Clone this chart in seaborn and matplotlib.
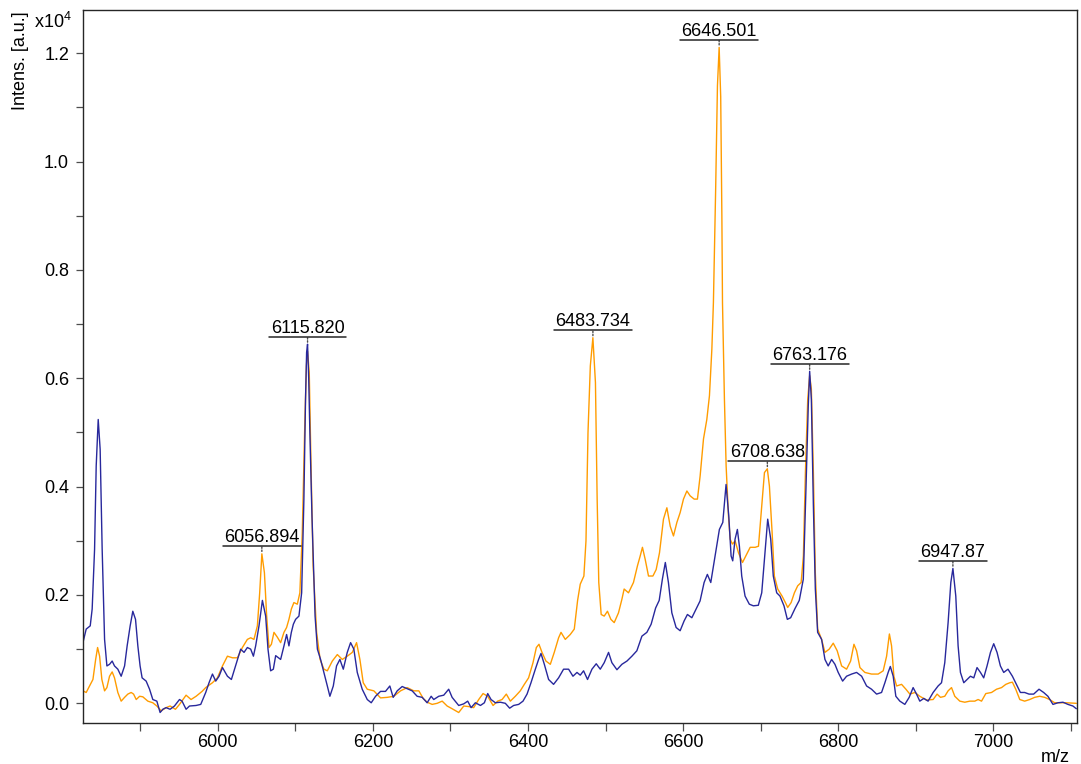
import numpy as np
import pandas as pd
import matplotlib
matplotlib.use("Agg")
import matplotlib.pyplot as plt
import matplotlib.transforms as mtransforms
from matplotlib.lines import Line2D
from matplotlib.ticker import MultipleLocator, FormatStrFormatter
import seaborn as sns

# ---------------- data (intensity in units of 10^4 a.u.) ----------------
blue_mz = [
    5826.2, 5830.4, 5835.6, 5838.1, 5841.2, 5843.3, 5845.9, 5848.4, 5851.0, 5854.1,
    5857.1, 5860.5, 5863.9, 5866.9, 5871.2, 5875.5, 5879.9, 5883.2, 5887.1, 5890.5,
    5894.0, 5897.0, 5899.9, 5902.5, 5907.7, 5912.1, 5916.3, 5921.5, 5925.7, 5929.2,
    5933.4, 5938.6, 5944.2, 5950.7, 5954.0, 5959.2, 5963.6, 5972.1, 5978.1, 5984.5,
    5988.8, 5993.2, 5997.4, 6001.7, 6006.1, 6012.5, 6017.6, 6021.0, 6026.1, 6029.6,
    6033.9, 6038.2, 6042.5, 6046.0, 6048.9, 6053.2, 6057.6, 6061.8, 6064.8, 6068.2,
    6071.7, 6074.7, 6081.1, 6085.4, 6088.8, 6091.8, 6094.9, 6097.5, 6100.4, 6104.7,
    6108.2, 6111.1, 6113.2, 6114.6, 6115.8, 6117.3, 6118.8, 6121.5, 6125.5, 6128.5,
    6132.6, 6136.9, 6141.3, 6144.6, 6149.0, 6153.2, 6157.5, 6161.9, 6167.0, 6171.3,
    6175.5, 6179.9, 6186.3, 6192.8, 6197.9, 6203.5, 6209.9, 6216.3, 6221.9, 6226.2,
    6231.4, 6237.8, 6244.3, 6250.7, 6257.1, 6263.6, 6270.0, 6275.2, 6278.5, 6285.0,
    6291.4, 6297.8, 6302.2, 6310.7, 6317.2, 6322.3, 6326.7, 6332.2, 6338.7, 6343.8,
    6348.1, 6352.4, 6358.0, 6364.4, 6370.8, 6376.4, 6381.5, 6388.0, 6393.6, 6398.8,
    6403.9, 6409.5, 6413.7, 6416.8, 6421.1, 6426.6, 6433.0, 6439.5, 6445.9, 6452.4,
    6458.0, 6463.2, 6467.4, 6471.7, 6476.8, 6482.5, 6488.0, 6493.2, 6498.3, 6503.9,
    6508.2, 6514.7, 6521.1, 6527.6, 6534.0, 6540.4, 6546.9, 6553.3, 6558.8, 6564.6,
    6569.2, 6573.4, 6577.1, 6581.1, 6585.5, 6591.0, 6596.2, 6601.3, 6605.6, 6611.3,
    6617.7, 6621.9, 6627.1, 6631.3, 6635.7, 6641.3, 6646.8, 6651.2, 6655.4, 6658.9,
    6661.9, 6664.0, 6667.0, 6670.0, 6672.6, 6675.6, 6679.9, 6685.4, 6690.6, 6697.0,
    6701.4, 6705.6, 6709.1, 6713.0, 6716.3, 6720.7, 6724.9, 6730.1, 6734.4, 6738.7,
    6744.3, 6749.8, 6755.0, 6758.4, 6761.4, 6763.2, 6765.4, 6768.0, 6770.5, 6773.5,
    6778.6, 6782.9, 6787.1, 6791.5, 6795.8, 6800.0, 6805.7, 6810.8, 6817.3, 6823.7,
    6830.2, 6836.6, 6843.0, 6849.5, 6855.9, 6860.2, 6864.4, 6867.2, 6870.9, 6874.3,
    6879.5, 6885.9, 6891.5, 6896.6, 6901.0, 6905.2, 6910.4, 6915.9, 6922.4, 6928.8,
    6933.2, 6937.4, 6941.7, 6945.2, 6947.9, 6951.6, 6954.6, 6957.6, 6961.9, 6966.2,
    6970.5, 6974.8, 6979.0, 6983.4, 6987.6, 6991.9, 6996.3, 7000.5, 7004.8, 7009.1,
    7013.4, 7018.9, 7024.6, 7029.7, 7034.9, 7040.4, 7046.0, 7052.0, 7058.9, 7064.9,
    7070.4, 7076.9, 7083.3, 7089.8, 7096.2, 7102.6, 7107.0,
]
blue_int = [
    0.112, 0.137, 0.143, 0.174, 0.284, 0.438, 0.524, 0.469, 0.284, 0.118,
    0.069, 0.072, 0.078, 0.069, 0.063, 0.050, 0.069, 0.106, 0.143, 0.170,
    0.155, 0.106, 0.069, 0.047, 0.041, 0.026, 0.007, 0.004, -0.017, -0.011,
    -0.008, -0.011, -0.005, 0.007, 0.004, -0.011, -0.005, -0.004, -0.002, 0.020,
    0.038, 0.054, 0.041, 0.050, 0.066, 0.050, 0.044, 0.060, 0.084, 0.100,
    0.094, 0.103, 0.100, 0.087, 0.106, 0.143, 0.190, 0.161, 0.100, 0.060,
    0.063, 0.088, 0.081, 0.106, 0.127, 0.106, 0.131, 0.146, 0.155, 0.161,
    0.204, 0.377, 0.561, 0.648, 0.663, 0.600, 0.500, 0.346, 0.161, 0.100,
    0.081, 0.057, 0.032, 0.013, 0.032, 0.069, 0.081, 0.063, 0.094, 0.112,
    0.100, 0.057, 0.026, 0.007, 0.001, 0.013, 0.022, 0.022, 0.032, 0.011,
    0.023, 0.031, 0.027, 0.023, 0.013, 0.011, 0.001, 0.013, 0.007, 0.013,
    0.015, 0.026, 0.011, -0.004, -0.001, 0.004, -0.008, 0.001, -0.004, 0.001,
    0.018, 0.007, 0.001, 0.002, 0.000, -0.009, -0.004, -0.002, 0.004, 0.017,
    0.038, 0.063, 0.081, 0.092, 0.072, 0.044, 0.035, 0.047, 0.063, 0.063,
    0.050, 0.057, 0.052, 0.060, 0.044, 0.063, 0.073, 0.063, 0.075, 0.094,
    0.075, 0.062, 0.072, 0.078, 0.087, 0.097, 0.124, 0.131, 0.146, 0.176,
    0.190, 0.230, 0.260, 0.223, 0.167, 0.140, 0.134, 0.152, 0.164, 0.158,
    0.177, 0.189, 0.223, 0.238, 0.223, 0.272, 0.321, 0.334, 0.404, 0.346,
    0.272, 0.263, 0.303, 0.321, 0.290, 0.235, 0.198, 0.183, 0.180, 0.181,
    0.204, 0.278, 0.340, 0.303, 0.235, 0.204, 0.198, 0.180, 0.155, 0.158,
    0.175, 0.190, 0.229, 0.395, 0.549, 0.613, 0.561, 0.364, 0.211, 0.131,
    0.118, 0.081, 0.069, 0.081, 0.072, 0.057, 0.041, 0.050, 0.054, 0.057,
    0.050, 0.032, 0.026, 0.017, 0.020, 0.038, 0.057, 0.068, 0.050, 0.013,
    0.004, -0.002, 0.011, 0.029, 0.017, 0.004, 0.009, 0.004, 0.020, 0.032,
    0.038, 0.075, 0.149, 0.223, 0.249, 0.198, 0.106, 0.057, 0.038, 0.044,
    0.050, 0.047, 0.066, 0.057, 0.047, 0.069, 0.094, 0.110, 0.094, 0.069,
    0.057, 0.063, 0.050, 0.035, 0.020, 0.020, 0.017, 0.017, 0.026, 0.020,
    0.013, -0.002, 0.001, 0.002, -0.002, -0.005, -0.010,
]

orange_mz = [
    5826.2, 5830.4, 5834.8, 5839.1, 5842.6, 5845.1, 5847.7, 5850.6, 5854.1, 5857.1,
    5860.5, 5863.9, 5866.9, 5871.2, 5875.5, 5879.9, 5884.1, 5888.4, 5891.5, 5894.9,
    5899.3, 5903.4, 5909.9, 5916.3, 5921.5, 5927.1, 5933.4, 5938.6, 5945.5, 5950.7,
    5959.2, 5965.6, 5972.1, 5979.8, 5984.5, 5993.2, 5999.6, 6006.1, 6012.5, 6019.0,
    6025.4, 6031.8, 6038.2, 6042.5, 6046.7, 6051.1, 6054.1, 6056.9, 6060.2, 6063.1,
    6066.1, 6069.2, 6072.5, 6076.9, 6081.1, 6085.4, 6088.8, 6091.8, 6094.9, 6098.2,
    6102.6, 6105.9, 6109.0, 6112.0, 6114.3, 6115.8, 6118.0, 6120.3, 6123.0, 6127.5,
    6132.0, 6136.9, 6141.3, 6147.7, 6154.2, 6160.6, 6167.0, 6173.5, 6179.0, 6183.3,
    6187.6, 6192.8, 6201.3, 6209.9, 6218.6, 6227.1, 6235.7, 6244.3, 6252.8, 6259.3,
    6264.9, 6270.0, 6276.5, 6282.9, 6289.4, 6295.8, 6302.2, 6310.7, 6317.2, 6323.6,
    6330.0, 6336.5, 6342.1, 6348.1, 6355.0, 6360.9, 6366.6, 6372.1, 6377.3, 6383.7,
    6390.1, 6395.3, 6400.8, 6406.5, 6410.8, 6414.2, 6418.1, 6423.2, 6428.8, 6433.9,
    6439.5, 6442.6, 6448.1, 6454.5, 6459.7, 6464.0, 6467.4, 6472.1, 6474.8, 6477.4,
    6480.4, 6483.7, 6487.0, 6489.2, 6491.3, 6494.4, 6498.3, 6502.5, 6506.9, 6511.2,
    6516.7, 6521.1, 6524.0, 6529.6, 6536.0, 6541.2, 6544.7, 6547.6, 6551.1, 6555.4,
    6561.1, 6565.3, 6569.6, 6574.7, 6579.1, 6583.4, 6587.6, 6592.0, 6596.2, 6600.5,
    6604.9, 6609.1, 6614.3, 6618.5, 6622.0, 6626.3, 6630.6, 6634.0, 6637.1, 6639.1,
    6642.0, 6644.3, 6646.5, 6648.5, 6650.0, 6650.8, 6653.3, 6655.5, 6658.5, 6660.7,
    6663.6, 6667.1, 6671.4, 6676.6, 6680.8, 6686.5, 6692.9, 6697.2, 6701.4, 6704.9,
    6708.6, 6711.3, 6714.8, 6717.7, 6722.0, 6727.6, 6731.9, 6734.9, 6739.3, 6743.5,
    6747.8, 6752.2, 6755.1, 6757.7, 6760.7, 6763.2, 6765.4, 6768.0, 6770.5, 6773.5,
    6778.6, 6782.9, 6788.4, 6793.6, 6798.7, 6804.4, 6810.8, 6816.0, 6820.3, 6823.7,
    6828.0, 6834.4, 6843.0, 6851.5, 6858.0, 6862.4, 6866.0, 6868.8, 6871.8, 6875.3,
    6881.7, 6887.3, 6892.4, 6898.9, 6905.2, 6913.9, 6922.4, 6927.5, 6931.9, 6937.4,
    6941.7, 6946.1, 6950.3, 6956.8, 6963.2, 6969.7, 6976.1, 6980.4, 6984.8, 6990.3,
    6997.7, 7004.1, 7010.6, 7016.1, 7021.3, 7024.6, 7028.9, 7034.1, 7040.4, 7046.9,
    7053.3, 7059.8, 7066.2, 7072.6, 7079.1, 7085.5, 7094.1, 7107.0,
]
orange_int = [
    0.023, 0.020, 0.032, 0.044, 0.081, 0.103, 0.087, 0.044, 0.023, 0.029,
    0.050, 0.058, 0.047, 0.020, 0.004, 0.011, 0.017, 0.020, 0.017, 0.007,
    0.013, 0.012, 0.004, 0.001, -0.005, -0.014, -0.008, -0.005, -0.011, -0.002,
    0.015, 0.007, 0.013, 0.022, 0.029, 0.038, 0.047, 0.069, 0.087, 0.084,
    0.084, 0.103, 0.118, 0.121, 0.118, 0.143, 0.204, 0.276, 0.241, 0.161,
    0.103, 0.109, 0.131, 0.122, 0.112, 0.131, 0.140, 0.155, 0.174, 0.186,
    0.183, 0.204, 0.315, 0.500, 0.623, 0.650, 0.611, 0.438, 0.254, 0.131,
    0.081, 0.063, 0.060, 0.078, 0.090, 0.081, 0.087, 0.094, 0.112, 0.081,
    0.038, 0.026, 0.023, 0.010, 0.011, 0.013, 0.023, 0.029, 0.023, 0.023,
    0.009, 0.002, -0.002, 0.000, 0.004, -0.005, -0.010, -0.017, -0.005, -0.006,
    -0.008, 0.007, 0.018, 0.013, -0.004, 0.004, 0.007, 0.017, 0.004, 0.013,
    0.023, 0.035, 0.047, 0.075, 0.103, 0.109, 0.094, 0.078, 0.072, 0.094,
    0.121, 0.131, 0.118, 0.127, 0.137, 0.190, 0.220, 0.235, 0.300, 0.500,
    0.623, 0.675, 0.592, 0.377, 0.223, 0.164, 0.161, 0.170, 0.155, 0.149,
    0.167, 0.192, 0.211, 0.204, 0.223, 0.254, 0.272, 0.288, 0.266, 0.235,
    0.235, 0.247, 0.278, 0.340, 0.361, 0.327, 0.309, 0.334, 0.352, 0.377,
    0.392, 0.383, 0.377, 0.377, 0.420, 0.488, 0.524, 0.568, 0.654, 0.740,
    0.950, 1.140, 1.211, 1.120, 0.900, 0.740, 0.561, 0.438, 0.346, 0.303,
    0.294, 0.300, 0.278, 0.260, 0.272, 0.288, 0.288, 0.290, 0.364, 0.426,
    0.433, 0.401, 0.315, 0.235, 0.211, 0.198, 0.186, 0.177, 0.186, 0.204,
    0.217, 0.223, 0.272, 0.426, 0.561, 0.605, 0.580, 0.426, 0.241, 0.137,
    0.118, 0.094, 0.100, 0.111, 0.097, 0.069, 0.063, 0.078, 0.109, 0.097,
    0.066, 0.057, 0.054, 0.054, 0.060, 0.087, 0.128, 0.106, 0.050, 0.032,
    0.035, 0.026, 0.017, 0.020, 0.013, 0.006, 0.007, 0.017, 0.011, 0.013,
    0.023, 0.029, 0.013, 0.004, 0.002, 0.004, 0.004, 0.007, 0.004, 0.018,
    0.020, 0.026, 0.029, 0.035, 0.038, 0.039, 0.026, 0.007, 0.004, 0.007,
    0.011, 0.013, 0.011, 0.007, 0.001, 0.001, 0.001, 0.000,
]

peak_mz = [6056.894, 6115.820, 6483.734, 6646.501, 6708.638, 6763.176, 6947.87]
peak_labels = ["6056.894", "6115.820", "6483.734", "6646.501", "6708.638", "6763.176", "6947.87"]

x_ticks = [6000, 6200, 6400, 6600, 6800, 7000]
y_ticks = [0.0, 0.2, 0.4, 0.6, 0.8, 1.0, 1.2]

assert len(blue_mz) == len(blue_int)
assert len(orange_mz) == len(orange_int)

ORANGE = "#ff9c00"
BLUE = "#28289c"

# ---------------- figure ----------------
sns.set_style("ticks")
plt.rcParams["font.family"] = ["Liberation Sans", "DejaVu Sans"]
plt.rcParams["mathtext.default"] = "regular"
plt.rcParams["text.color"] = "black"
plt.rcParams["xtick.labelcolor"] = "black"
plt.rcParams["ytick.labelcolor"] = "black"

FS = 13
W, H = 1081, 764
fig = plt.figure(figsize=(W / 100, H / 100), dpi=100)
ax_l, ax_r, ax_t, ax_b = 82.7, 1076.7, 10.0, 722.7
ax = fig.add_axes([ax_l / W, 1 - ax_b / H, (ax_r - ax_l) / W, (ax_b - ax_t) / H])

df_orange = pd.DataFrame({"mz": orange_mz, "intensity": orange_int})
df_blue = pd.DataFrame({"mz": blue_mz, "intensity": blue_int})
sns.lineplot(data=df_orange, x="mz", y="intensity", color=ORANGE, lw=1.0,
             estimator=None, sort=False, ax=ax)
sns.lineplot(data=df_blue, x="mz", y="intensity", color=BLUE, lw=1.0,
             estimator=None, sort=False, ax=ax)

ax.set_xlim(5825.9, 7107.5)
ax.set_ylim(-0.0358, 1.28)
ax.set_xlabel("")
ax.set_ylabel("")
ax.set_xticks(x_ticks)
ax.set_yticks(y_ticks)
ax.xaxis.set_minor_locator(MultipleLocator(100))
ax.yaxis.set_minor_locator(MultipleLocator(0.1))
ax.yaxis.set_major_formatter(FormatStrFormatter("%.1f"))
ax.tick_params(axis="x", which="both", direction="out", length=5.5, width=0.9,
               color="0.3", labelsize=FS, labelcolor="black", pad=2.5)
ax.tick_params(axis="y", which="both", direction="out", length=4.8, width=0.9,
               color="0.3", labelsize=FS, labelcolor="black", pad=5.0)
for s in ax.spines.values():
    s.set_visible(True)
    s.set_linewidth(1.0)
    s.set_color("0.15")

# peak annotations
texts = []
for mz, lab in zip(peak_mz, peak_labels):
    h = max(np.interp(mz, blue_mz, blue_int), np.interp(mz, orange_mz, orange_int))
    t = ax.annotate(lab, xy=(mz, h), xytext=(0, 5.6), textcoords="offset points",
                    ha="center", va="bottom", fontsize=FS, color="black")
    texts.append(t)
    ax.annotate("", xy=(mz, h), xytext=(0, 5.0), textcoords="offset points",
                arrowprops=dict(arrowstyle="-", lw=1.0, color="0.3",
                                linestyle=(0, (1, 1.2)), shrinkA=0, shrinkB=1.2))

fig.text(20.5 / W, 1 - 11.7 / H, "Intens. [a.u.]", rotation=90, ha="center",
         va="top", fontsize=FS, color="black")
fig.text(72 / W, 1 - 28 / H, r"x10$^4$", ha="right", va="baseline", fontsize=FS,
         color="black")
fig.text(1070 / W, 1 - 762 / H, "m/z", ha="right", va="baseline", fontsize=FS,
         color="black")

fig.canvas.draw()
renderer = fig.canvas.get_renderer()
ident = mtransforms.IdentityTransform()
for t in texts:
    bb = t.get_window_extent(renderer)
    fig.add_artist(Line2D([bb.x0 - 1.5, bb.x1 + 1.5], [bb.y0, bb.y0],
                          transform=ident, color="0.15", lw=1.1))

fig.savefig("out.png", dpi=100)
